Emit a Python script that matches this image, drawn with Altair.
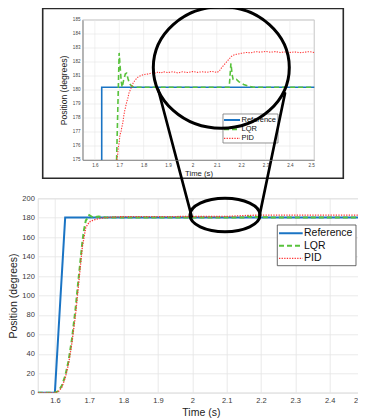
import altair as alt
import pandas as pd

SERIES = ["Reference", "LQR", "PID"]
COLORS = ["#1a74c4", "#58c23c", "#ff3434"]
DASHES = [[1, 0], [5, 3], [1.3, 1.3]]
WIDTHS = [2.0, 2.0, 1.3]

X_TICKS = [1.6, 1.7, 1.8, 1.9, 2.0, 2.1, 2.2, 2.3, 2.4, 2.5]
Y_TICKS_MAIN = [0, 20, 40, 60, 80, 100, 120, 140, 160, 180, 200]
Y_TICKS_INSET = [175, 176, 177, 178, 179, 180, 181, 182, 183, 184, 185]

# ---- main plot series (time s, position deg)
ref_t = [1.55, 1.60, 1.63, 2.50]
ref_v = [0, 0, 180.2, 180.2]
lqr_t = [1.55, 1.60, 1.61, 1.62, 1.63, 1.64, 1.65, 1.66, 1.67, 1.68, 1.685, 1.69, 1.70,
         1.711, 1.727, 1.75, 2.15, 2.158, 2.167, 2.19, 2.24, 2.50]
lqr_v = [0, 0, 1.5, 7, 17, 33, 56, 86, 121, 155, 168, 177, 182.6,
         180.3, 181.2, 180.2, 180.2, 181.9, 180.8, 180.7, 180.2, 180.2]
pid_t = [1.55, 1.60, 1.61, 1.62, 1.63, 1.64, 1.65, 1.66, 1.67, 1.68, 1.69, 1.70, 1.71,
         1.72, 1.74, 1.76, 1.79, 1.85, 2.10, 2.13, 2.17, 2.22, 2.50]
pid_v = [0, 0, 1, 5.5, 15, 30, 52, 80, 115, 150, 170, 175.5, 177.2,
         178.5, 179.7, 180.5, 181.0, 181.2, 181.3, 181.9, 182.5, 182.7, 182.7]

# ---- inset (zoomed) series
in_ref_t = [1.628, 1.628, 2.50]
in_ref_v = [175.0, 180.2, 180.2]
in_lqr_t = [1.689, 1.6995, 1.703, 1.708, 1.712, 1.718, 1.725, 1.730, 1.736, 1.742, 1.750,
            1.760, 2.151, 2.158, 2.163, 2.167, 2.175, 2.181, 2.190, 2.210, 2.236, 2.250, 2.50]
in_lqr_v = [175.0, 182.65, 181.8, 180.6, 180.2, 180.7, 181.15, 181.2, 180.8, 180.45, 180.3,
            180.2, 180.2, 181.9, 181.1, 180.75, 180.7, 180.75, 180.6, 180.4, 180.25, 180.2, 180.2]
in_pid_t = [1.690, 1.693, 1.696, 1.700, 1.703, 1.707, 1.710, 1.714, 1.718, 1.722, 1.726,
            1.730, 1.735, 1.740, 1.745, 1.750, 1.757, 1.765, 1.775, 1.785, 1.800, 1.820,
            1.840, 1.850, 1.860, 1.870, 1.880, 1.900, 1.920, 1.940, 1.960, 1.980, 2.000,
            2.020, 2.040, 2.060, 2.080, 2.100, 2.110, 2.120, 2.130, 2.140, 2.150, 2.160,
            2.170, 2.180, 2.200, 2.220, 2.240, 2.260, 2.280, 2.300, 2.320, 2.340, 2.360,
            2.380, 2.400, 2.420, 2.440, 2.460, 2.480, 2.500]
in_pid_v = [175.0, 175.3, 175.9, 176.3, 176.8, 177.0, 177.3, 177.6, 178.1, 178.5, 178.8,
            179.1, 179.4, 179.8, 180.0, 180.2, 180.5, 180.7, 180.9, 181.0, 181.1, 181.15,
            181.25, 181.2, 181.3, 181.2, 181.3, 181.25, 181.3, 181.22, 181.3, 181.25, 181.32,
            181.26, 181.3, 181.27, 181.33, 181.25, 181.35, 181.6, 181.8, 182.0, 182.2, 182.4,
            182.5, 182.55, 182.62, 182.68, 182.66, 182.74, 182.7, 182.76, 182.7, 182.74, 182.68,
            182.72, 182.68, 182.72, 182.66, 182.7, 182.74, 182.68]


def long(parts):
    rows = []
    for name, ts, vs in parts:
        for i, (t, v) in enumerate(zip(ts, vs)):
            rows.append({"series": name, "t": t, "v": v, "i": i})
    return pd.DataFrame(rows)


main_df = long([("Reference", ref_t, ref_v), ("LQR", lqr_t, lqr_v), ("PID", pid_t, pid_v)])
inset_df = long([("Reference", in_ref_t, in_ref_v), ("LQR", in_lqr_t, in_lqr_v),
                 ("PID", in_pid_t, in_pid_v)])
one = pd.DataFrame({"k": [0]})

FONT = "Liberation Sans"
W, H = 326.3, 194.4

# ---------------- main plot
mx = alt.X("t:Q", scale=alt.Scale(domain=[1.55, 2.5], nice=False, zero=False),
           axis=alt.Axis(values=X_TICKS, format=".1~f", title="Time (s)", grid=True,
                         gridColor="#e4e4e4", gridWidth=0.8, ticks=False, domain=False,
                         labelFontSize=7.5, labelPadding=4, labelColor="#3a3a3a",
                         titleFontSize=10.5, titlePadding=3, titleFontWeight="normal",
                         titleColor="#222", labelFont=FONT, titleFont=FONT,
                         labelOverlap=False))
my = alt.Y("v:Q", scale=alt.Scale(domain=[0, 200], nice=False, zero=False),
           axis=alt.Axis(values=Y_TICKS_MAIN, title="Position (degrees)", grid=True,
                         gridColor="#e4e4e4", gridWidth=0.8, ticks=False, domain=False,
                         labelFontSize=7.5, labelPadding=3.4, labelColor="#3a3a3a",
                         titleFontSize=10.5, titlePadding=3, titleFontWeight="normal",
                         titleColor="#222", labelFont=FONT, titleFont=FONT,
                         labelOverlap=False))
main_lines = [
    alt.Chart(main_df).transform_filter(alt.datum.series == name)
    .mark_line(color=c, strokeDash=d, strokeWidth=w, clip=True)
    .encode(x=mx, y=my, order="i:Q")
    for name, c, d, w in zip(SERIES, COLORS, DASHES, WIDTHS)
]
main_group = alt.layer(*main_lines)

# ---------------- inset
IX0, IX1 = 45.0, 276.6
IY0, IY1 = -178.3, -38.3   # top, bottom
ix_scale = alt.Scale(domain=[1.55, 2.5], range=[IX0, IX1], nice=False, zero=False)
iy_scale = alt.Scale(domain=[175, 185], range=[IY1, IY0], nice=False, zero=False)

inset_frame = alt.Chart(one).mark_rect(fill="white", stroke="#2a2a2a", strokeWidth=1.6).encode(
    x=alt.value(5.0), x2=alt.value(305.6), y=alt.value(-189.8), y2=alt.value(-20.0))
inset_plot_bg = alt.Chart(one).mark_rect(fill="white", stroke="#9a9a9a", strokeWidth=0.7).encode(
    x=alt.value(IX0), x2=alt.value(IX1), y=alt.value(IY0), y2=alt.value(IY1))

ix = alt.X("t:Q", scale=ix_scale,
           axis=alt.Axis(orient="bottom", offset=IY1 - H, values=X_TICKS, format=".1~f",
                         title="Time (s)", grid=False, ticks=False, domainColor="#777",
                         domainWidth=0.7, labelFontSize=4.6, labelPadding=2.7,
                         labelColor="#444", titleFontSize=7.7, titlePadding=2,
                         titleFontWeight="normal", titleColor="#222", labelFont=FONT,
                         titleFont=FONT, labelOverlap=False, zindex=1))
iy = alt.Y("v:Q", scale=iy_scale,
           axis=alt.Axis(orient="left", offset=-IX0, values=Y_TICKS_INSET, title="Position (degrees)",
                         grid=False, ticks=False, domainColor="#777", domainWidth=0.7,
                         labelFontSize=4.6, labelPadding=2.7, labelColor="#444",
                         titleFontSize=8.6, titlePadding=3.5, titleFontWeight="normal",
                         titleColor="#222", labelFont=FONT, titleFont=FONT,
                         labelOverlap=False, zindex=1))

gx = alt.Chart(pd.DataFrame({"t": X_TICKS})).mark_rule(color="#e6e6e6", strokeWidth=0.6).encode(
    x=ix, y=alt.value(IY0), y2=alt.value(IY1))
gy = alt.Chart(pd.DataFrame({"v": Y_TICKS_INSET})).mark_rule(color="#e6e6e6", strokeWidth=0.6).encode(
    y=iy, x=alt.value(IX0), x2=alt.value(IX1))
inset_lines = [
    alt.Chart(inset_df).transform_filter(alt.datum.series == name)
    .mark_line(color=c, strokeDash=d, strokeWidth=w * 0.8, clip=False)
    .encode(x=ix, y=iy, order="i:Q")
    for name, c, d, w in zip(SERIES, COLORS, DASHES, WIDTHS)
]
inset_group = alt.layer(gx, gy, *inset_lines)


# ---------------- legends
def legend(bx0, bx1, by0, by1, sx0, sx1, tx, ey0, ey1, font, border):
    leg_df = pd.DataFrame({"series": SERIES})
    yenc = alt.Y("series:N", scale=alt.Scale(type="point", domain=SERIES, range=[ey0, ey1],
                                             padding=0), axis=None)
    box = alt.Chart(one).mark_rect(fill="white", stroke=border, strokeWidth=0.8).encode(
        x=alt.value(bx0), x2=alt.value(bx1), y=alt.value(by0), y2=alt.value(by1))
    syms = [
        alt.Chart(leg_df).transform_filter(alt.datum.series == name)
        .mark_rule(color=c, strokeDash=d, strokeWidth=w)
        .encode(x=alt.value(sx0), x2=alt.value(sx1), y=yenc)
        for name, c, d, w in zip(SERIES, COLORS, DASHES, WIDTHS)
    ]
    txt = alt.Chart(leg_df).mark_text(align="left", baseline="middle", fontSize=font,
                                      font=FONT, color="#111").encode(
        x=alt.value(tx), y=yenc, text="series:N")
    return alt.layer(box, *syms, txt)


inset_legend = legend(185.3, 240.3, -84.3, -55.3, 186.3, 202.3, 203.8, -78.3, -60.0, 7.5, "#777")
main_legend = legend(239.6, 318.3, 26.7, 67.4, 241.3, 265.0, 266.3, 35.0, 60.0, 10.5, "#444")

# ---------------- zoom annotation (ellipses + connectors)
def ellipse_path(r):
    return f"M -1 0 A 1 {r} 0 1 0 1 0 A 1 {r} 0 1 0 -1 0 Z"


big_ell = alt.Chart(one).mark_point(shape=ellipse_path(0.894), size=(2 * 68) ** 2, filled=False,
                                    color="black", strokeWidth=3, opacity=1).encode(
    x=alt.value(183.6), y=alt.value(-130.8))
small_ell = alt.Chart(one).mark_point(shape=ellipse_path(0.477), size=(2 * 35) ** 2, filled=False,
                                      color="black", strokeWidth=3, opacity=1).encode(
    x=alt.value(187.3), y=alt.value(16.7))
conn_l = alt.Chart(one).mark_rule(color="black", strokeWidth=2.7, strokeCap="round").encode(
    x=alt.value(120.6), y=alt.value(-108.3), x2=alt.value(154.0), y2=alt.value(18.4))
conn_r = alt.Chart(one).mark_rule(color="black", strokeWidth=2.7, strokeCap="round").encode(
    x=alt.value(247.3), y=alt.value(-105.0), x2=alt.value(221.6), y2=alt.value(18.4))

chart = alt.layer(
    main_group, main_legend, inset_frame, inset_plot_bg, inset_group, inset_legend,
    big_ell, small_ell, conn_l, conn_r,
).resolve_scale(x="independent", y="independent").properties(
    width=W, height=H,
    autosize=alt.AutoSizeParams(type="none"),
    padding={"left": 29.7, "top": 190.3, "right": -6, "bottom": 25.5},
).configure_view(stroke="#9a9a9a", strokeWidth=0.8).configure(background="white")

chart.save("out.html", embed_options={"renderer": "svg", "actions": False})
